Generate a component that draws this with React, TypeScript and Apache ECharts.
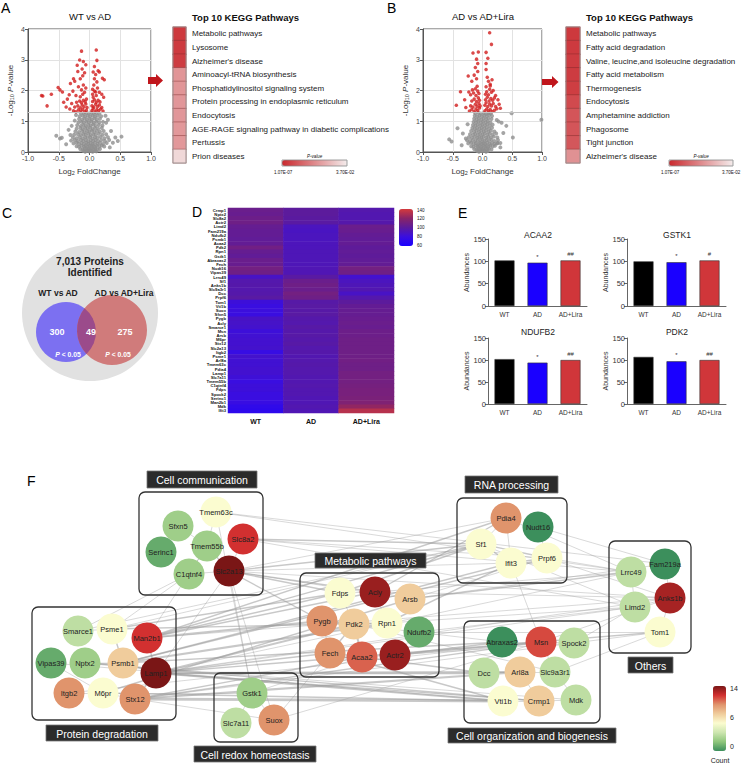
import React, { useEffect, useRef } from 'react';
import * as echarts from 'echarts';

const FONT = '"Liberation Sans", Arial, Helvetica, sans-serif';

// ---------- Panel A / B : volcano plots (log2 FC, -log10 P) ----------
const greyA: number[][] = [
  [-0.1,0.03],[-0.07,0.01],[-0.04,0.04],[-0.01,0.02],[0.02,0.04],[0.05,0.01],[0.08,0.03],[0.11,0.02],
  [-0.15,0.1],[-0.11,0.08],[-0.08,0.12],[-0.05,0.09],[-0.02,0.11],[0.01,0.08],[0.04,0.12],[0.07,0.09],[0.1,0.11],[0.13,0.08],[0.17,0.1],
  [-0.21,0.19],[-0.17,0.17],[-0.13,0.2],[-0.09,0.18],[-0.06,0.21],[-0.03,0.17],[0,0.2],[0.03,0.18],[0.06,0.21],[0.09,0.17],[0.12,0.2],[0.16,0.18],[0.2,0.21],[0.24,0.18],
  [-0.26,0.28],[-0.21,0.3],[-0.17,0.27],[-0.13,0.29],[-0.09,0.26],[-0.05,0.3],[-0.02,0.27],[0.02,0.29],[0.05,0.26],[0.09,0.3],[0.13,0.27],[0.17,0.29],[0.22,0.26],[0.28,0.29],
  [-0.3,0.37],[-0.24,0.39],[-0.19,0.36],[-0.14,0.39],[-0.1,0.36],[-0.06,0.38],[-0.02,0.35],[0.02,0.38],[0.06,0.36],[0.1,0.39],[0.14,0.36],[0.19,0.38],[0.25,0.36],[0.32,0.39],
  [-0.27,0.47],[-0.21,0.45],[-0.16,0.48],[-0.11,0.45],[-0.07,0.48],[-0.03,0.46],[0.01,0.49],[0.05,0.45],[0.09,0.48],[0.13,0.46],[0.18,0.49],[0.24,0.45],[0.3,0.48],
  [-0.25,0.56],[-0.19,0.58],[-0.14,0.55],[-0.1,0.58],[-0.06,0.56],[-0.02,0.59],[0.02,0.55],[0.06,0.58],[0.1,0.56],[0.15,0.59],[0.21,0.56],[0.27,0.58],
  [-0.23,0.67],[-0.17,0.65],[-0.12,0.68],[-0.08,0.65],[-0.04,0.68],[0,0.66],[0.04,0.69],[0.08,0.65],[0.12,0.68],[0.17,0.66],[0.23,0.68],
  [-0.21,0.76],[-0.15,0.78],[-0.11,0.75],[-0.07,0.78],[-0.03,0.76],[0.01,0.79],[0.05,0.75],[0.09,0.78],[0.14,0.76],[0.2,0.78],
  [-0.2,0.87],[-0.14,0.85],[-0.1,0.88],[-0.06,0.85],[-0.02,0.88],[0.02,0.86],[0.06,0.89],[0.1,0.85],[0.15,0.88],[0.21,0.86],
  [-0.18,0.96],[-0.13,0.98],[-0.09,0.95],[-0.05,0.98],[-0.01,0.96],[0.03,0.99],[0.07,0.95],[0.11,0.98],[0.16,0.96],[0.22,0.98],
  [-0.17,1.07],[-0.12,1.05],[-0.08,1.08],[-0.04,1.05],[0,1.08],[0.04,1.06],[0.08,1.09],[0.12,1.05],[0.17,1.08],
  [-0.16,1.16],[-0.11,1.18],[-0.07,1.15],[-0.03,1.18],[0.01,1.16],[0.05,1.19],[0.09,1.15],[0.13,1.18],[0.19,1.16],
  [-0.14,1.26],[-0.09,1.24],[-0.05,1.27],[-0.01,1.25],[0.03,1.28],[0.07,1.24],[0.11,1.27],[0.16,1.25],
  [-0.54,0.53],[-0.48,0.44],[-0.45,0.46],[-0.31,0.55],[-0.34,0.72],[-0.29,0.85],[-0.24,1.02],[-0.22,1.2],[0.27,0.95],[0.3,1.05],[0.26,1.18],[0.35,0.68],[0.42,0.47],[0.46,0.36],[0.52,0.5],[0.38,0.3],[-0.38,0.25],[0.33,0.15]
];
const redA: number[][] = [
  [-0.26,1.34],[-0.22,1.31],[-0.18,1.37],[-0.14,1.33],[-0.11,1.39],[-0.08,1.32],[-0.05,1.36],[0.04,1.35],[0.06,1.41],[0.09,1.32],[0.12,1.38],[0.15,1.34],[0.18,1.4],[0.22,1.33],
  [-0.24,1.46],[-0.19,1.5],[-0.15,1.44],[-0.12,1.53],[-0.09,1.47],[-0.06,1.56],[-0.04,1.45],[0.04,1.5],[0.07,1.46],[0.1,1.55],[0.13,1.48],[0.16,1.53],[0.2,1.45],
  [-0.21,1.62],[-0.16,1.66],[-0.13,1.6],[-0.1,1.68],[-0.07,1.63],[-0.05,1.72],[0.05,1.64],[0.08,1.7],[0.11,1.62],[0.14,1.68],[0.17,1.63],[0.06,1.78],
  [-0.22,1.84],[-0.15,1.8],[-0.11,1.88],[-0.08,1.94],[-0.13,2.02],[-0.06,2.08],[-0.1,2.18],[-0.18,2.12],[-0.27,1.98],[-0.33,1.86],[-0.36,1.72],[-0.38,1.46],[-0.32,1.4],[-0.29,1.58],
  [0.05,1.88],[0.08,1.98],[0.11,1.84],[0.13,2.08],[0.07,2.18],[0.16,1.94],[0.2,1.88],[0.23,1.78],[0.05,2.04],[0.1,1.95],
  [-0.24,2.3],[-0.15,2.38],[-0.11,2.48],[-0.08,2.58],[-0.12,2.7],[-0.06,2.84],[-0.16,2.99],[-0.13,3.28],[-0.1,2.94],[-0.2,2.82],[-0.19,2.62],[-0.26,2.38],[-0.31,2.23],
  [0.08,2.38],[0.12,2.28],[0.1,2.52],[0.14,2.64],[0.16,2.6],[0.21,2.4],[0.12,2.98],[0.08,2.78],[0.11,3.32],[0.24,2.35],[0.06,2.6],
  [-0.76,1.82],[-0.78,1.84],[-0.62,1.88],[-0.69,1.5],[-0.51,2.1],[-0.48,2.02],[-0.44,1.95],[-0.42,1.62]
];
const greyB: number[][] = [
  [-0.09,0.03],[-0.06,0.01],[-0.03,0.04],[0,0.02],[0.03,0.04],[0.06,0.01],[0.09,0.03],
  [-0.14,0.1],[-0.1,0.08],[-0.07,0.12],[-0.04,0.09],[-0.01,0.11],[0.02,0.08],[0.05,0.12],[0.08,0.09],[0.11,0.11],[0.15,0.08],
  [-0.19,0.19],[-0.15,0.17],[-0.11,0.21],[-0.08,0.18],[-0.05,0.2],[-0.02,0.17],[0.01,0.21],[0.04,0.18],[0.07,0.2],[0.1,0.17],[0.13,0.21],[0.17,0.18],[0.21,0.2],
  [-0.24,0.28],[-0.19,0.3],[-0.15,0.27],[-0.11,0.29],[-0.07,0.26],[-0.04,0.3],[-0.01,0.27],[0.02,0.29],[0.05,0.26],[0.08,0.3],[0.12,0.27],[0.16,0.29],[0.2,0.26],[0.25,0.29],
  [-0.26,0.38],[-0.21,0.36],[-0.16,0.39],[-0.12,0.36],[-0.08,0.39],[-0.04,0.37],[0,0.4],[0.03,0.36],[0.07,0.39],[0.11,0.37],[0.15,0.4],[0.2,0.36],[0.26,0.39],
  [-0.23,0.48],[-0.18,0.46],[-0.13,0.49],[-0.09,0.46],[-0.05,0.49],[-0.02,0.47],[0.02,0.5],[0.06,0.46],[0.1,0.49],[0.14,0.47],[0.19,0.5],[0.25,0.47],
  [-0.21,0.58],[-0.16,0.56],[-0.12,0.59],[-0.08,0.56],[-0.04,0.59],[0,0.57],[0.04,0.6],[0.08,0.56],[0.12,0.59],[0.17,0.57],[0.23,0.6],
  [-0.19,0.68],[-0.14,0.66],[-0.1,0.69],[-0.06,0.66],[-0.02,0.69],[0.02,0.67],[0.06,0.7],[0.1,0.66],[0.14,0.69],[0.2,0.67],
  [-0.17,0.78],[-0.13,0.76],[-0.09,0.79],[-0.05,0.76],[-0.01,0.79],[0.03,0.77],[0.07,0.8],[0.11,0.76],[0.16,0.79],
  [-0.16,0.88],[-0.12,0.86],[-0.08,0.89],[-0.04,0.86],[0,0.89],[0.04,0.87],[0.08,0.9],[0.12,0.86],[0.17,0.89],
  [-0.15,0.98],[-0.11,0.96],[-0.07,0.99],[-0.03,0.96],[0.01,0.99],[0.05,0.97],[0.09,1.0],[0.13,0.96],
  [-0.14,1.08],[-0.1,1.06],[-0.06,1.09],[-0.02,1.06],[0.02,1.09],[0.06,1.07],[0.1,1.1],[0.15,1.07],
  [-0.13,1.18],[-0.09,1.16],[-0.05,1.19],[-0.01,1.16],[0.03,1.19],[0.07,1.17],[0.11,1.2],[0.16,1.17],
  [-0.12,1.26],[-0.07,1.28],[-0.03,1.25],[0.02,1.27],[0.06,1.24],[0.1,1.27],[0.14,1.25],
  [0.49,1.26],[0.99,1.05],[0.51,0.47],[-0.56,0.41],[-0.52,0.34],[-0.42,0.77],[-0.28,0.44],[-0.33,0.6],[0.24,1.04],[0.27,0.99],[0.32,0.95],[0.25,0.28],[0.3,0.29],[0.35,0.62],[0.4,0.85],[-0.35,0.22],[0.3,0.15],[-0.25,0.9]
];
const redB: number[][] = [
  [-0.22,1.33],[-0.18,1.38],[-0.14,1.32],[-0.11,1.4],[-0.08,1.35],[-0.05,1.43],[0.04,1.34],[0.07,1.4],[0.1,1.33],[0.13,1.38],[0.16,1.32],[0.2,1.36],[0.24,1.41],
  [-0.2,1.5],[-0.16,1.46],[-0.12,1.55],[-0.09,1.49],[-0.06,1.58],[-0.04,1.5],[0.04,1.52],[0.06,1.6],[0.09,1.48],[0.12,1.56],[0.15,1.5],[0.18,1.58],[0.22,1.48],
  [-0.18,1.66],[-0.14,1.72],[-0.1,1.64],[-0.07,1.76],[-0.05,1.68],[0.05,1.7],[0.08,1.78],[0.11,1.66],[0.14,1.74],[0.17,1.68],[0.2,1.76],
  [-0.2,1.86],[-0.15,1.92],[-0.11,1.84],[-0.08,1.98],[-0.06,1.9],[-0.12,2.06],[-0.09,2.14],[-0.17,2.02],[-0.23,1.95],
  [0.05,1.88],[0.07,1.96],[0.1,1.86],[0.12,2.04],[0.15,1.94],[0.18,2.0],[0.13,2.15],[0.06,2.12],[0.22,1.84],
  [-0.18,2.3],[-0.24,2.47],[-0.14,2.5],[-0.1,2.38],[-0.08,2.62],[-0.08,2.88],[-0.1,3.02],[-0.07,3.25],[-0.16,3.22],[-0.12,2.75],
  [0.06,2.68],[0.08,2.43],[0.1,2.3],[0.13,2.2],[0.06,2.88],[0.06,3.24],[0.15,3.5],[0.12,3.88],[0.09,3.05],[0.16,2.35],
  [-0.37,1.96],[-0.44,1.52],[-0.3,1.7],[-0.28,1.45],[0.28,1.55],[0.3,1.42],[0.26,1.7]
];
const pThreshold = 1.3;

// ---------- KEGG pathways (log10 P) ----------
const keggA = ['Metabolic pathways', 'Lysosome', "Alzheimer's disease", 'Aminoacyl-tRNA biosynthesis',
  'Phosphatidylinositol signaling system', 'Protein processing in endoplasmic reticulum', 'Endocytosis',
  'AGE-RAGE signaling pathway in diabetic complications', 'Pertussis', 'Prion diseases'];
const keggPA = [-6.5, -6.45, -6.4, -3.9, -3.9, -3.85, -3.85, -3.8, -3.8, -2.0];
const keggB = ['Metabolic pathways', 'Fatty acid degradation', 'Valine, leucine,and isoleucine degradation',
  'Fatty acid metabolism', 'Thermogenesis', 'Endocytosis', 'Amphetamine addiction', 'Phagosome',
  'Tight junction', "Alzheimer's disease"];
const keggPB = [-6.5, -6.45, -6.4, -6.4, -6.35, -6.0, -5.7, -5.7, -5.65, -4.0];
const pRange = [-6.97, -1.43];
const pRangeLabels = ['1.07E-07', '3.70E-02'];

// ---------- Panel C : Venn ----------
const vennCounts = [300, 49, 275];
const vennTotal = '7,013';
const vennSets = ['WT vs AD', 'AD vs AD+Lira'];

// ---------- Panel D : heatmap ----------
const hmGenes = ['Crmp1','Nptx2','Slc8a2','Actr2','Limd2','Fam219a','Ndufb2','Psmb1','Acaa2','Pdk2','Rpn1','Gstk1',
  'Abraxas2','Fech','Nudt16','Vipas39','Lrrc49','Sf1','Anks1b','Slc9a3r1','Dcc','Prpf6','Tom1','Vti1b','Suox','Sfxn5',
  'Pygb','Acly','Smarce1','Msn','Arsb','M6pr','Stx12','Slc2a13','Itgb2','Psme1','Arl8a','Tmem63c','Pdia4','Lamp1',
  'Slc7a11','Tmem55b','C1qtnf4','Fdps','Spock2','Serinc1','Man2b1','Mdk','Ifit3'];
const hmGroups = ['WT', 'AD', 'AD+Lira'];
const hmWT = [106,105,107,108,104,103,103,102,103,109,104,102,106,105,110,108,88,95,96,95,96,98,82,80,81,80,88,87,86,82,84,85,85,86,78,86,84,84,85,85,83,80,82,82,80,80,79,74,72];
const hmAD = [100,100,99,98,90,89,90,90,91,91,92,92,92,92,93,93,98,106,108,106,110,108,97,98,97,98,96,95,97,96,97,96,97,95,96,94,95,96,95,95,94,94,95,94,94,93,93,94,93];
const hmLira = [95,94,94,96,106,105,103,102,103,101,102,101,102,103,110,108,85,90,92,94,88,95,100,103,104,104,105,106,105,107,107,108,108,108,108,108,109,108,108,110,110,110,111,112,112,113,115,122,132];
const hmTicks = [140, 120, 100, 80, 60];

// ---------- Panel E : bars ----------
const barGroups = ['WT', 'AD', 'AD+Lira'];
const barTitles = ['ACAA2', 'GSTK1', 'NDUFB2', 'PDK2'];
const barValues = [[102, 97, 102], [100, 98, 102], [102, 94, 100], [107, 97, 100]];
const barSig = [['', '*', '##'], ['', '*', '#'], ['', '*', '##'], ['', '*', '##']];

// ---------- Panel F : network (name, layout x, layout y, count) ----------
const netNodes: [string, number, number, number][] = [
  ['Tmem63c',216,512,6],['Sfxn5',178,526,2.5],['Slc8a2',243,539,12],['Serinc1',161,552,1],['Tmem55b',207,546,2.5],['C1qtnf4',189,574,2.5],['Slc2a13',229,571,14],
  ['Smarce1',78,631,3.5],['Psme1',112,629,6],['Man2b1',147,638,12],['Vipas39',51,663,1],['Nptx2',85,663,2.5],['Psmb1',123,663,8],['Lamp1',156,673,14],['Itgb2',69,693,10],['M6pr',103,693,6],['Stx12',135,699,10],
  ['Gstk1',252,693,2.5],['Slc7a11',236,723,3.5],['Suox',274,720,10],
  ['Fdps',340,593,6],['Acly',375,592,13.3],['Arsb',410,599,8],['Pygb',322,621,10],['Pdk2',354,624,8],['Rpn1',387,623,6],['Ndufb2',419,632,1],['Fech',330,653,10],['Acaa2',362,657,11],['Actr2',395,655,13.3],
  ['Pdia4',506,518,10],['Nudt16',538,527,0],['Sf1',481,544,6],['Ifit3',511,563,6],['Prpf6',547,558,6],
  ['Lrrc49',631,572,3.5],['Fam219a',665,564,0],['Limd2',635,607,3.5],['Anks1b',670,598,13],['Tom1',660,632,6],
  ['Abraxas2',502,642,0],['Msn',541,642,11.5],['Spock2',574,643,3.5],['Dcc',484,673,3.5],['Arl8a',520,672,8],['Slc9a3r1',555,672,3.5],['Vti1b',503,701,6],['Crmp1',539,701,8],['Mdk',576,700,3.5]
];
const netEdges: [string, string, number][] = [
  ['Slc2a13','Tmem55b',2],['Slc2a13','C1qtnf4',1],['Tmem55b','Sfxn5',1],['Tmem55b','C1qtnf4',1],['Slc2a13','Slc8a2',1],['Tmem63c','Tmem55b',1],
  ['Tmem63c','Fam219a',1],['Tmem63c','Lrrc49',1],['Slc8a2','Prpf6',1],['Slc8a2','Sf1',2],['Slc8a2','Lrrc49',1],['Slc2a13','Fdps',2],['Slc2a13','Acly',2],
  ['Slc2a13','Pdia4',1],['Slc2a13','Sf1',2],['Slc2a13','Ifit3',1],['Slc2a13','Arsb',1],['Slc2a13','Anks1b',1],['Slc2a13','Gstk1',1],['Slc2a13','Suox',1],
  ['C1qtnf4','Psme1',1],['C1qtnf4','Smarce1',1],['Tmem55b','Man2b1',1],['Slc2a13','Lamp1',1],['Slc2a13','Pygb',2],['Slc8a2','Limd2',1],
  ['Psmb1','Psme1',2],['Psmb1','Nptx2',2],['Lamp1','Man2b1',2],['Lamp1','Stx12',2],['M6pr','Stx12',1],['Psmb1','Lamp1',2],['Smarce1','Psme1',1],['Vipas39','M6pr',1],['Itgb2','M6pr',1],
  ['Man2b1','Pygb',3],['Man2b1','Fdps',2],['Man2b1','Acly',2],['Man2b1','Sf1',2],['Man2b1','Pdia4',2],['Lamp1','Pdk2',3],['Lamp1','Fech',2],['Lamp1','Arl8a',3],
  ['Lamp1','Vti1b',3],['Lamp1','Crmp1',2],['Lamp1','Dcc',2],['Lamp1','Lrrc49',1],['Lamp1','Limd2',1],['Lamp1','Tom1',2],['Stx12','Vti1b',4],['Stx12','Arl8a',3],
  ['Stx12','Msn',2],['Stx12','Acaa2',2],['Stx12','Suox',1],['Psmb1','Rpn1',3],['Psmb1','Ifit3',2],['Psmb1','Prpf6',2],['Psme1','Rpn1',2],['Psme1','Fdps',2],
  ['Psme1','Sf1',1],['M6pr','Arsb',2],['M6pr','Vti1b',2],['M6pr','Gstk1',1],['Itgb2','Msn',1],['Nptx2','Crmp1',2],['Nptx2','Mdk',1],['Vipas39','Vti1b',1],
  ['Smarce1','Sf1',1],['Psmb1','Abraxas2',2],['Man2b1','Anks1b',1],['Lamp1','Anks1b',1],['Stx12','Tom1',1],
  ['Gstk1','Slc7a11',1],['Gstk1','Suox',1],['Suox','Fech',1],['Gstk1','Acaa2',1],['Suox','Msn',1],['Gstk1','Tmem63c',1],
  ['Pygb','Pdk2',2],['Pdk2','Fech',2],['Pdk2','Acaa2',3],['Pdk2','Rpn1',1],['Acly','Fdps',1],['Acly','Rpn1',1],['Fech','Acaa2',2],['Acaa2','Actr2',1],
  ['Ndufb2','Actr2',1],['Pdk2','Fdps',1],['Pygb','Fech',1],
  ['Acly','Pdia4',2],['Fdps','Sf1',2],['Arsb','Prpf6',1],['Arsb','Fam219a',1],['Arsb','Lrrc49',2],['Rpn1','Ifit3',2],['Rpn1','Limd2',1],['Ndufb2','Limd2',1],
  ['Ndufb2','Tom1',1],['Actr2','Msn',2],['Actr2','Abraxas2',2],['Actr2','Spock2',1],['Acaa2','Dcc',2],['Fech','Vti1b',2],['Acly','Anks1b',1],['Acly','Lrrc49',1],
  ['Pygb','Abraxas2',1],['Pdk2','Slc9a3r1',1],
  ['Sf1','Ifit3',2],['Sf1','Pdia4',1],['Ifit3','Prpf6',2],['Prpf6','Nudt16',1],['Pdia4','Ifit3',1],['Sf1','Prpf6',2],['Ifit3','Msn',1],['Pdia4','Lrrc49',1],
  ['Nudt16','Fam219a',1],['Prpf6','Lrrc49',1],['Prpf6','Anks1b',1],['Sf1','Limd2',1],
  ['Abraxas2','Msn',1],['Msn','Spock2',1],['Dcc','Arl8a',1],['Arl8a','Slc9a3r1',1],['Vti1b','Crmp1',1],['Crmp1','Mdk',1],['Slc9a3r1','Msn',1],['Arl8a','Crmp1',1],
  ['Slc9a3r1','Tom1',1],['Msn','Anks1b',1],['Spock2','Limd2',1],['Mdk','Slc9a3r1',1],
  ['Lrrc49','Limd2',1],['Limd2','Anks1b',1],['Anks1b','Tom1',1],['Fam219a','Anks1b',1]
];
const countRange = [0, 14];
const countTicks = ['14', '6', '0'];
const clusterNames = ['Cell communication', 'Protein degradation', 'Cell redox homeostasis', 'Metabolic pathways',
  'RNA processing', 'Cell organization and biogenesis', 'Others'];

// ---------- layout / style (not data) ----------
const countColors = ['#3c8f5c', '#8fc67c', '#cde6b0', '#fbfcd0', '#f0cc9c', '#e0946c', '#d23030', '#7a1616'];
const hmColors = ['#1a00ff', '#3a0ee0', '#5c1b9c', '#8a2466', '#d43a3c'];
const keggColors = ['#c9282d', '#f4ecec'];
const barColors = ['#000000', '#1a00ff', '#d0363a'];
const clusterBoxes = [[139,492,124,103],[32,607,144,113],[214,673,84,69],[300,573,139,104],[457,498,110,85],[464,621,136,102],[609,541,82,112]];
const clusterLabels = [[147,471,110,17],[46,725,112,16],[194,746,122,16],[315,553,111,15],[465,476,93,17],[448,728,168,15],[628,657,45,16]];

try {
  echarts.graphic.registerShape('vennLens', echarts.graphic.extendPath(
    'M84.48 308.37 A30 30 0 0 1 86.46 353.93 A35 35 0 0 1 84.48 308.37 Z', {}));
} catch (e) { /* already registered */ }

function txt(x: number, y: number, text: string, size: number, o: any = {}) {
  return {
    type: 'text', x, y, z: 30, silent: true,
    style: {
      text,
      font: `${o.italic ? 'italic ' : ''}${o.bold ? 'bold ' : ''}${size}px ${FONT}`,
      fill: o.fill || '#111',
      textAlign: o.align || 'center',
      textVerticalAlign: o.va || 'middle',
      rich: o.rich,
    },
  };
}

function buildOption(): any {
  const rich = {
    t: { fontSize: 8, color: '#333', fontFamily: FONT },
    s: { fontSize: 5.5, color: '#333', fontFamily: FONT, verticalAlign: 'bottom', padding: [3, 0, 0, 0] },
    i: { fontSize: 8, color: '#333', fontFamily: FONT, fontStyle: 'italic' },
  };
  const volX = (gi: number) => ({
    gridIndex: gi, type: 'value', min: -1, max: 1, interval: 0.5,
    axisLine: { show: true, onZero: false, lineStyle: { color: '#555' } },
    axisTick: { show: true, length: 3, lineStyle: { color: '#555' } },
    axisLabel: { fontSize: 7, color: '#444', margin: 3, fontFamily: FONT, formatter: (v: number) => v.toFixed(1) },
    splitLine: { show: true, lineStyle: { color: '#e2e2e2' } },
    name: '{t|Log}{s|2}{t| FoldChange}', nameLocation: 'middle', nameGap: 15,
    nameTextStyle: { rich },
  });
  const volY = (gi: number) => ({
    gridIndex: gi, type: 'value', min: 0, max: 4, interval: 1,
    axisLine: { show: true, onZero: false, lineStyle: { color: '#555' } },
    axisTick: { show: true, length: 3, lineStyle: { color: '#555' } },
    axisLabel: { fontSize: 7, color: '#444', margin: 3, fontFamily: FONT },
    splitLine: { show: true, lineStyle: { color: '#e2e2e2' } },
    name: '{t|-Log}{s|10}{t| }{i|P}{t|-value}', nameLocation: 'middle', nameGap: 13,
    nameTextStyle: { rich },
  });
  const keggY = (gi: number, data: string[]) => ({
    gridIndex: gi, type: 'category', data, inverse: true, position: 'right',
    axisLine: { show: false }, axisTick: { show: false },
    axisLabel: { fontSize: 8, color: '#222', margin: 6, interval: 0, fontFamily: FONT },
  });
  const barX = (gi: number) => ({
    gridIndex: gi, type: 'category', data: barGroups,
    axisLine: { show: true, lineStyle: { color: '#666' } }, axisTick: { show: false },
    axisLabel: { fontSize: 6.5, color: '#333', margin: 5, fontFamily: FONT },
  });
  const barY = (gi: number) => ({
    gridIndex: gi, type: 'value', min: 0, max: 150, interval: 50,
    axisLine: { show: true, lineStyle: { color: '#666' } },
    axisTick: { show: true, length: 3, lineStyle: { color: '#666' } },
    axisLabel: { fontSize: 7.5, color: '#333', margin: 2, fontFamily: FONT },
    splitLine: { show: false },
    name: 'Abundances', nameLocation: 'middle', nameGap: 15,
    nameTextStyle: { fontSize: 7, color: '#333', fontFamily: FONT },
  });

  const grid = [
    { left: 28, top: 29, width: 123, height: 123, show: true, borderColor: '#555', borderWidth: 1 },
    { left: 423, top: 29, width: 119, height: 123, show: true, borderColor: '#555', borderWidth: 1 },
    { left: 173, top: 27, width: 13, height: 136 },
    { left: 566, top: 27, width: 14, height: 136 },
    { left: 228, top: 208, width: 166, height: 205 },
    { left: 488, top: 239, width: 99, height: 67 },
    { left: 627, top: 239, width: 99, height: 67 },
    { left: 488, top: 338, width: 99, height: 66 },
    { left: 627, top: 338, width: 99, height: 66 },
    { left: 0, top: 0, width: 745, height: 765 },
  ];

  const xAxis: any[] = [
    volX(0), volX(1),
    { gridIndex: 2, type: 'category', data: ['p'], show: false },
    { gridIndex: 3, type: 'category', data: ['p'], show: false },
    { gridIndex: 4, type: 'category', data: hmGroups, axisLine: { show: false }, axisTick: { show: false },
      axisLabel: { fontSize: 7, fontWeight: 'bold', color: '#111', margin: 5, fontFamily: FONT } },
    barX(5), barX(6), barX(7), barX(8),
    { gridIndex: 9, type: 'value', min: 0, max: 745, show: false },
  ];
  const yAxis: any[] = [
    volY(0), volY(1),
    keggY(2, keggA), keggY(3, keggB),
    { gridIndex: 4, type: 'category', data: hmGenes, inverse: true, axisLine: { show: false }, axisTick: { show: false },
      axisLabel: { fontSize: 4.2, fontWeight: 'bold', color: '#111', margin: 2, interval: 0, fontFamily: FONT } },
    barY(5), barY(6), barY(7), barY(8),
    { gridIndex: 9, type: 'value', min: 0, max: 765, inverse: true, show: false },
  ];

  const scatter = (gi: number, data: number[][], color: string, size: number, z: number, mark: boolean) => ({
    type: 'scatter', xAxisIndex: gi, yAxisIndex: gi, data, symbolSize: size, z,
    itemStyle: { color }, silent: true,
    markLine: mark ? {
      silent: true, symbol: 'none', label: { show: false },
      lineStyle: { color: '#c2c2c2', type: 'solid', width: 1 },
      data: [{ yAxis: pThreshold }],
    } : undefined,
  });

  const series: any[] = [
    scatter(0, greyA, '#8e8e8e', 4, 2, true),
    scatter(0, redA, '#d11d1d', 3.5, 3, false),
    scatter(1, greyB, '#8e8e8e', 4, 2, true),
    scatter(1, redB, '#d11d1d', 3.5, 3, false),
    { type: 'heatmap', xAxisIndex: 2, yAxisIndex: 2, data: keggPA.map((v, i) => [0, i, v]),
      itemStyle: { borderColor: 'rgba(120,40,40,0.55)', borderWidth: 0.7 } },
    { type: 'heatmap', xAxisIndex: 3, yAxisIndex: 3, data: keggPB.map((v, i) => [0, i, v]),
      itemStyle: { borderColor: 'rgba(120,40,40,0.55)', borderWidth: 0.7 } },
    { type: 'heatmap', xAxisIndex: 4, yAxisIndex: 4,
      data: hmGenes.flatMap((g, i) => [[0, i, hmWT[i]], [1, i, hmAD[i]], [2, i, hmLira[i]]]) },
  ];
  barValues.forEach((vals, k) => {
    series.push({
      type: 'bar', xAxisIndex: 5 + k, yAxisIndex: 5 + k, barWidth: 20,
      data: vals.map((v, j) => ({
        value: v, itemStyle: { color: barColors[j] },
        label: { show: barSig[k][j] !== '', formatter: barSig[k][j] },
      })),
      itemStyle: { borderColor: '#333', borderWidth: 0.6 },
      label: { position: 'top', distance: 3, fontSize: 6, color: '#333', fontFamily: FONT },
    });
  });
  series.push({
    type: 'graph', coordinateSystem: 'cartesian2d', xAxisIndex: 9, yAxisIndex: 9,
    symbolSize: 31, z: 5,
    data: netNodes.map(([name, x, y, c]) => ({
      name, value: [x, y],
      itemStyle: { color: echarts.color.lerp((c - countRange[0]) / (countRange[1] - countRange[0]), countColors) },
    })),
    links: netEdges.map(([s, t, w]) => ({ source: s, target: t, lineStyle: { width: 0.7 * w } })),
    lineStyle: { color: '#9a9a9a', opacity: 0.55, curveness: 0 },
    label: { show: true, position: 'inside', fontSize: 7.5, color: '#222', fontFamily: FONT },
    emphasis: { disabled: true },
  });
  series.push({ type: 'scatter', xAxisIndex: 9, yAxisIndex: 9, data: [] });

  const visualMap: any[] = [
    { type: 'continuous', seriesIndex: 4, min: pRange[0], max: pRange[1], orient: 'horizontal',
      left: 282, top: 160, itemWidth: 6, itemHeight: 65, text: null, calculable: false, padding: 0,
      inRange: { color: keggColors } },
    { type: 'continuous', seriesIndex: 5, min: pRange[0], max: pRange[1], orient: 'horizontal',
      left: 669, top: 160, itemWidth: 6, itemHeight: 64, text: null, calculable: false, padding: 0,
      inRange: { color: keggColors } },
    { type: 'continuous', seriesIndex: 6, min: 60, max: 140, orient: 'vertical',
      left: 399, top: 209, itemWidth: 14, itemHeight: 37, text: null, calculable: false, padding: 0,
      inRange: { color: hmColors } },
    { type: 'continuous', seriesIndex: 12, min: countRange[0], max: countRange[1], orient: 'vertical',
      left: 713, top: 686, itemWidth: 13, itemHeight: 65, text: null, calculable: false, padding: 0,
      inRange: { color: countColors } },
  ];

  const g: any[] = [];
  [['A', 1, 1], ['B', 387, 1], ['C', 2, 206], ['D', 192, 205], ['E', 458, 206], ['F', 27, 474]].forEach(([l, x, y]) =>
    g.push(txt(x as number, y as number, l as string, 14, { align: 'left', va: 'top', fill: '#000' })));
  g.push(txt(90, 16, 'WT vs AD', 9.5));
  g.push(txt(483, 16, 'AD vs AD+Lira', 9.5));
  g.push(txt(192, 17, 'Top 10 KEGG Pathways', 9.5, { bold: true, align: 'left' }));
  g.push(txt(586, 17, 'Top 10 KEGG Pathways', 9.5, { bold: true, align: 'left' }));
  g.push({ type: 'rect', z: 25, silent: true, shape: { x: 173, y: 27, width: 13, height: 136 }, style: { fill: 'none', stroke: '#999', lineWidth: 0.8 } });
  g.push({ type: 'rect', z: 25, silent: true, shape: { x: 566, y: 27, width: 14, height: 136 }, style: { fill: 'none', stroke: '#999', lineWidth: 0.8 } });
  g.push({ type: 'polygon', z: 25, silent: true, shape: { points: [[148,77],[156,77],[156,74],[163,80.5],[156,87],[156,84],[148,84]] }, style: { fill: '#c0161c' } });
  g.push({ type: 'polygon', z: 25, silent: true, shape: { points: [[542,79],[552,79],[552,76],[558.5,82],[552,88],[552,85],[542,85]] }, style: { fill: '#c0161c' } });
  [[282, 65], [669, 64]].forEach(([x, w]) => {
    g.push({ type: 'rect', z: 25, silent: true, shape: { x, y: 160, width: w, height: 6 }, style: { fill: 'none', stroke: '#888', lineWidth: 0.8 } });
    g.push(txt(x + w / 2, 156, 'P-value', 4.5, { italic: true }));
    g.push(txt(x + 1, 172, pRangeLabels[0], 4.5, { align: 'center' }));
    g.push(txt(x + w - 2, 172, pRangeLabels[1], 4.5, { align: 'center' }));
  });
  g.push({ type: 'circle', z: 20, silent: true, shape: { cx: 90, cy: 313, r: 68 }, style: { fill: '#e1e1e1' } });
  g.push({ type: 'circle', z: 21, silent: true, shape: { cx: 66, cy: 332, r: 30 }, style: { fill: '#7c70f1' } });
  g.push({ type: 'circle', z: 21, silent: true, shape: { cx: 112, cy: 330, r: 35 }, style: { fill: '#d07b7b' } });
  g.push({ type: 'vennLens', z: 22, silent: true, x: 0, y: 0, shape: {}, style: { fill: '#9b4b8b' } });
  g.push(txt(90, 261, `${vennTotal} Proteins`, 10, { bold: true, fill: '#222' }));
  g.push(txt(90, 272, 'Identified', 10, { bold: true, fill: '#222' }));
  g.push(txt(58, 293, vennSets[0], 8.5, { bold: true, fill: '#222' }));
  g.push(txt(124, 293, vennSets[1], 8.5, { bold: true, fill: '#222' }));
  g.push(txt(57, 332, String(vennCounts[0]), 9, { bold: true, fill: '#fff' }));
  g.push(txt(91, 332, String(vennCounts[1]), 9, { bold: true, fill: '#fff' }));
  g.push(txt(125, 332, String(vennCounts[2]), 9, { bold: true, fill: '#fff' }));
  const pRich = { i: { fontStyle: 'italic', fontWeight: 'bold', fontSize: 6.8, fill: '#fff', fontFamily: FONT }, n: { fontWeight: 'bold', fontSize: 6.8, fill: '#fff', fontFamily: FONT } };
  g.push(txt(68, 354, '{i|P}{n| < 0.05}', 6.8, { fill: '#fff', rich: pRich }));
  g.push(txt(118, 354, '{i|P}{n| < 0.05}', 6.8, { fill: '#fff', rich: pRich }));
  hmTicks.forEach((t, i) => g.push(txt(417, 210 + i * 8.9, String(t), 4.5, { align: 'left' })));
  [[538, 235], [677, 235], [538, 332], [677, 332]].forEach(([x, y], k) => g.push(txt(x, y, barTitles[k], 8.5, { fill: '#222' })));
  clusterBoxes.forEach(([x, y, w, h]) =>
    g.push({ type: 'rect', z: 24, silent: true, shape: { x, y, width: w, height: h, r: 6 }, style: { fill: 'none', stroke: '#333', lineWidth: 1.3 } }));
  clusterLabels.forEach(([x, y, w, h], k) => {
    g.push({ type: 'rect', z: 25, silent: true, shape: { x, y, width: w, height: h }, style: { fill: '#2b2b2b', stroke: '#777', lineWidth: 0.8 } });
    g.push(txt(x + w / 2, y + h / 2 + 0.5, clusterNames[k], 10.5, { fill: '#fff' }));
  });
  [688, 717, 746].forEach((y, i) => g.push(txt(730, y, countTicks[i], 7, { align: 'left', fill: '#222' })));
  g.push(txt(720, 760, 'Count', 7, { fill: '#222' }));

  return {
    animation: false,
    backgroundColor: '#ffffff',
    textStyle: { fontFamily: FONT },
    grid, xAxis, yAxis, series, visualMap, graphic: g,
  };
}

export default function App() {
  const ref = useRef<HTMLDivElement>(null);
  useEffect(() => {
    document.body.style.margin = '0';
    if (!ref.current) return;
    const chart = echarts.init(ref.current, undefined, { renderer: 'svg' });
    chart.setOption(buildOption());
    return () => chart.dispose();
  }, []);
  return <div ref={ref} style={{ width: 745, height: 765 }} />;
}
